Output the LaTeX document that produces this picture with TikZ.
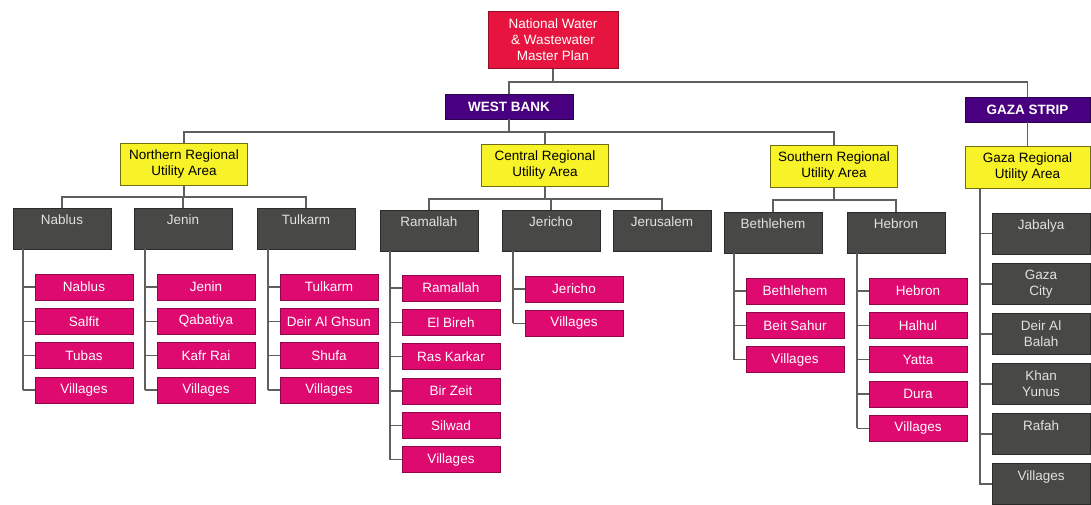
\documentclass[tikz,border=0pt]{standalone}
\usepackage{fontspec}
\setmainfont{Liberation Sans}
\definecolor{topred}{RGB}{230,20,62}
\definecolor{wbpurple}{RGB}{72,0,128}
\definecolor{regyellow}{RGB}{248,242,40}
\definecolor{leafpink}{RGB}{222,10,112}
\definecolor{darkbox}{RGB}{72,72,70}
\definecolor{darktext}{RGB}{225,225,225}
\definecolor{linkgray}{RGB}{95,95,95}

\newcommand\leafcol[6]{%
  \coordinate (#2x) at ({#3-61},0);
  \foreach \t [count=\i] in {#6} {
    \node[leaf] (#2\i) at (#3,{#4+(\i-1)*34.3}) {\t};
    \draw[link] (#2x |- #2\i.west) -- (#2\i.west);
  }
  \draw[link] (#1.south -| #2x) -- (#2x |- #2#5.west);
}

\begin{document}
\begin{tikzpicture}[x=1pt,y=-1pt,
  font=\fontsize{13.5}{16}\selectfont,
  link/.style={draw=linkgray, line width=1.2pt},
  topbox/.style={rectangle, fill=topred, draw=topred!65!black, line width=0.8pt,
    minimum width=130pt, minimum height=57pt, inner sep=0pt, align=center, text=white},
  regionbox/.style={rectangle, fill=wbpurple, draw=wbpurple!60!black, line width=0.6pt,
    minimum height=25pt, inner sep=0pt, text=white, font=\fontsize{13.5}{16}\selectfont\bfseries},
  areabox/.style={rectangle, fill=regyellow, draw=regyellow!45!black, line width=0.7pt,
    minimum width=127pt, minimum height=42pt, inner sep=0pt, align=center, text=black},
  dtext/.style={anchor=north, inner sep=0pt, yshift=-7pt, align=center, text=darktext},
  cbox/.style={rectangle, fill=darkbox, draw=darkbox!60!black, line width=0.6pt,
    minimum width=98pt, minimum height=41pt, inner sep=0pt,
    label={[dtext]north:{#1}}},
  leaf/.style={rectangle, fill=leafpink, draw=leafpink!65!black, line width=0.6pt,
    minimum width=98pt, minimum height=26pt, inner sep=0pt, text=white}
]
\path[use as bounding box, fill=white] (0,0) rectangle (1091,504);

% level 1-2
\node[topbox] (top) at (553,40) {National Water\\\& Wastewater\\Master Plan};
\node[regionbox, minimum width=128pt] (wb) at (509,106.5) {WEST BANK};
\node[regionbox, minimum width=125pt] (gs) at (1027.5,109.5) {GAZA STRIP};

% level 3
\node[areabox] (north) at (184,164) {Northern Regional\\Utility Area};
\node[areabox] (central) at (545,165.5) {Central Regional\\Utility Area};
\node[areabox] (south) at (834,166.5) {Southern Regional\\Utility Area};
\node[areabox, minimum width=125pt] (gaza) at (1027.5,167.5) {Gaza Regional\\Utility Area};

% level 4
\node[cbox=Nablus] (nablus) at (62,228.5) {};
\node[cbox=Jenin] (jenin) at (183,228.5) {};
\node[cbox=Tulkarm] (tulkarm) at (306,228.5) {};
\node[cbox=Ramallah] (ramallah) at (429,230.5) {};
\node[cbox=Jericho] (jericho) at (551,230.5) {};
\node[cbox=Jerusalem] (jerusalem) at (662,230.5) {};
\node[cbox=Bethlehem] (bethlehem) at (773,232.5) {};
\node[cbox=Hebron] (hebron) at (896,232.5) {};

\node[cbox=Jabalya] (gjab) at (1041,233.5) {};
\node[cbox={Gaza\\City}] (gcity) at (1041,284) {};
\node[cbox={Deir Al\\Balah}] (gdeir) at (1041,334) {};
\node[cbox={Khan\\Yunus}] (gkhan) at (1041,384) {};
\node[cbox=Rafah] (grafah) at (1041,434) {};
\node[cbox=Villages] (gvil) at (1041,484) {};

% connectors top levels
\coordinate (bus1) at (0,82);
\coordinate (bus2) at (0,132);
\draw[link] (top.south) -- (top.south |- bus1) -| (wb.north);
\draw[link] (top.south |- bus1) -| (gs.north);
\draw[link] (wb.south) -- (wb.south |- bus2) -| (north.north);
\draw[link] (wb.south |- bus2) -| (central.north);
\draw[link] (wb.south |- bus2) -| (south.north);
\draw[link] (gs.south) -- (gaza.north);

% connectors regional -> districts
\coordinate (bus3n) at (0,197);
\coordinate (bus3c) at (0,199);
\coordinate (bus3s) at (0,200);
\draw[link] (north.south) -- (north.south |- bus3n) -| (nablus.north);
\draw[link] (north.south |- bus3n) -| (jenin.north);
\draw[link] (north.south |- bus3n) -| (tulkarm.north);
\draw[link] (central.south) -- (central.south |- bus3c) -| (ramallah.north);
\draw[link] (central.south |- bus3c) -| (jericho.north);
\draw[link] (central.south |- bus3c) -| (jerusalem.north);
\draw[link] (south.south) -- (south.south |- bus3s) -| (bethlehem.north);
\draw[link] (south.south |- bus3s) -| (hebron.north);

% Gaza spine
\coordinate (gzx) at (980,0);
\draw[link] (gaza.south -| gzx) -- (gzx |- gvil.west) -- (gvil.west);
\foreach \n in {gjab,gcity,gdeir,gkhan,grafah} {
  \draw[link] (gzx |- \n.west) -- (\n.west);
}

% leaf columns
\leafcol{nablus}{nb}{84}{287}{4}{Nablus,Salfit,Tubas,Villages}
\leafcol{jenin}{jn}{206}{287}{4}{Jenin,Qabatiya,Kafr Rai,Villages}
\leafcol{tulkarm}{tk}{329}{287}{4}{Tulkarm,Deir Al Ghsun,Shufa,Villages}
\leafcol{ramallah}{rm}{451}{288}{6}{Ramallah,El Bireh,Ras Karkar,Bir Zeit,Silwad,Villages}
\leafcol{jericho}{jc}{574}{289}{2}{Jericho,Villages}
\leafcol{bethlehem}{bt}{795}{291}{3}{Bethlehem,Beit Sahur,Villages}
\leafcol{hebron}{hb}{918}{291}{5}{Hebron,Halhul,Yatta,Dura,Villages}
\end{tikzpicture}
\end{document}
